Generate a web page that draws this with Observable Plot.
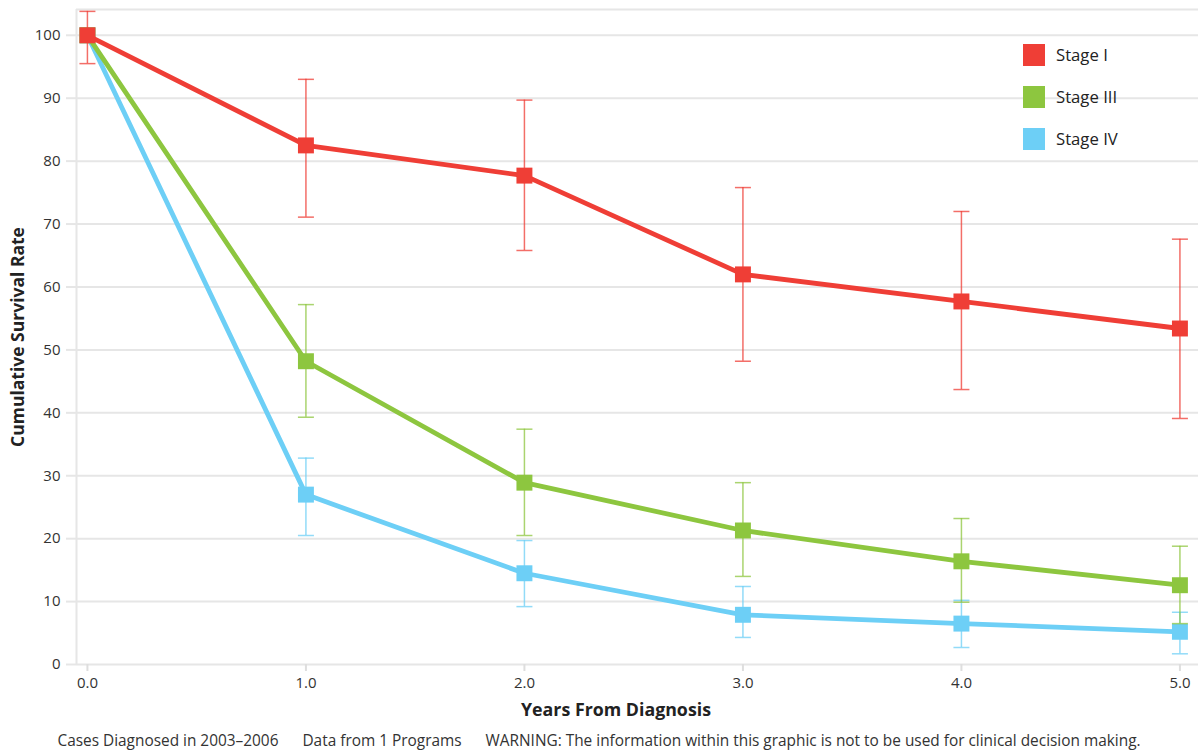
<!DOCTYPE html>
<html><head><meta charset="utf-8">
<script src="https://cdn.jsdelivr.net/npm/d3@7"></script>
<script src="https://cdn.jsdelivr.net/npm/@observablehq/plot@0.6"></script>
<style>
body{margin:0;background:#fff;font-family:"Open Sans",sans-serif;color:#333;}
#wrap{position:relative;width:1198px;height:751px;overflow:hidden;}
#chart{position:absolute;left:0;top:0;}
.legend{position:absolute;left:1023px;top:44px;}
.legend .item{position:absolute;left:0;height:22px;white-space:nowrap;}
.legend .sw{position:absolute;left:0;top:0;width:22px;height:22px;}
.legend .lab{position:absolute;left:33px;top:0;line-height:22px;font-size:16.7px;color:#222;}
.xlabel{position:absolute;left:416px;width:400px;top:697px;text-align:center;font-weight:bold;font-size:17.8px;color:#222;}
.caption{position:absolute;left:0;width:1198px;top:730px;text-align:center;font-size:15.4px;color:#333;white-space:pre;}
</style></head><body>
<div id="wrap"><div id="chart"></div></div>
<script>
const years = [0, 1, 2, 3, 4, 5];
const seriesNames = ["Stage I", "Stage III", "Stage IV"];
const seriesColors = ["#ef3e36", "#8dc63f", "#6dcff6"];
const stageI = [100, 82.5, 77.7, 62.0, 57.7, 53.4];
const stageILow = [95.5, 71.1, 65.8, 48.2, 43.7, 39.1];
const stageIHigh = [103.8, 93.0, 89.7, 75.8, 72.0, 67.6];
const stageIII = [100, 48.2, 28.9, 21.3, 16.4, 12.6];
const stageIIILow = [null, 39.3, 20.5, 14.0, 9.9, 6.5];
const stageIIIHigh = [null, 57.2, 37.4, 28.9, 23.2, 18.8];
const stageIV = [100, 27.0, 14.5, 7.9, 6.5, 5.2];
const stageIVLow = [null, 20.5, 9.2, 4.3, 2.7, 1.7];
const stageIVHigh = [null, 32.8, 19.7, 12.4, 10.2, 8.3];
const xTicks = [0, 1, 2, 3, 4, 5];
const yTicks = [0, 10, 20, 30, 40, 50, 60, 70, 80, 90, 100];
const xDomain = [-0.05, 5.085];
const yDomain = [0, 104.1];
const xTitle = "Years From Diagnosis";
const yTitle = "Cumulative Survival Rate";
const captionParts = ["Cases Diagnosed in 2003\u20132006", "Data from 1 Programs", "WARNING: The information within this graphic is not to be used for clinical decision making."];

const seriesValues = [stageI, stageIII, stageIV];
const seriesLow = [stageILow, stageIIILow, stageIVLow];
const seriesHigh = [stageIHigh, stageIIIHigh, stageIVHigh];

const series = seriesNames.map((name, i) => ({
  name, color: seriesColors[i],
  rows: years.map((yr, j) => ({year: yr, value: seriesValues[i][j], lo: seriesLow[i][j], hi: seriesHigh[i][j]}))
}));

const capSymbol = {draw(ctx, size) { const w = Math.sqrt(size / Math.PI); ctx.moveTo(-w, 0); ctx.lineTo(w, 0); }};

const seriesMarks = [];
for (const s of series.slice().reverse()) {
  const err = s.rows.filter(d => d.lo != null && d.hi != null);
  seriesMarks.push(
    Plot.ruleX(err, {x: "year", y1: "lo", y2: "hi", stroke: s.color, strokeWidth: 1.5, strokeOpacity: 0.75}),
    Plot.dot(err, {x: "year", y: "hi", symbol: capSymbol, r: 8, stroke: s.color, strokeWidth: 1.5, strokeOpacity: 0.75, fill: "none"}),
    Plot.dot(err, {x: "year", y: "lo", symbol: capSymbol, r: 8, stroke: s.color, strokeWidth: 1.5, strokeOpacity: 0.75, fill: "none"}),
    Plot.line(s.rows, {x: "year", y: "value", stroke: s.color, strokeWidth: 4.8, strokeLinejoin: "round"}),
    Plot.dot(s.rows, {x: "year", y: "value", symbol: "square", r: 9, fill: s.color, stroke: "none"})
  );
}

const chart = Plot.plot({
  width: 1198, height: 700,
  marginLeft: 76, marginRight: 0, marginTop: 9, marginBottom: 36,
  style: {fontFamily: "'Open Sans', sans-serif", fontSize: "15px", color: "#333", background: "transparent", overflow: "visible"},
  x: {domain: xDomain, label: null},
  y: {domain: yDomain, label: null},
  marks: [
    Plot.gridY(yTicks, {stroke: "#e6e6e6", strokeOpacity: 1, strokeWidth: 2}),
    Plot.ruleY([yDomain[1]], {stroke: "#e6e6e6", strokeWidth: 2}),
    Plot.ruleX([xDomain[0]], {stroke: "#e6e6e6", strokeWidth: 2}),
    Plot.axisY(yTicks, {tickSize: 10, tickPadding: 6, stroke: "#e6e6e6", strokeWidth: 2, fill: "#333", fontSize: 15, label: null}),
    Plot.axisX(xTicks, {tickSize: 7, tickPadding: 6, tickFormat: d3.format(".1f"), stroke: "#dedede", strokeWidth: 2, fill: "#333", fontSize: 15, label: null}),
    Plot.text([yTitle], {frameAnchor: "left", textAnchor: "middle", dx: -58, rotate: -90, fontWeight: "bold", fontSize: 17.5, fill: "#222", text: d => d}),
    ...seriesMarks
  ]
});
document.getElementById("chart").appendChild(chart);

const wrap = document.getElementById("wrap");
const legend = document.createElement("div");
legend.className = "legend";
const legendStep = [0, 42, 84];
series.forEach((s, i) => {
  const item = document.createElement("div");
  item.className = "item";
  item.style.top = legendStep[i] + "px";
  item.innerHTML = `<div class="sw" style="background:${s.color}"></div><div class="lab">${s.name}</div>`;
  legend.appendChild(item);
});
wrap.appendChild(legend);

const xl = document.createElement("div"); xl.className = "xlabel"; xl.textContent = xTitle; wrap.appendChild(xl);
const cap = document.createElement("div"); cap.className = "caption"; cap.textContent = captionParts.join("      "); wrap.appendChild(cap);
</script>
</body></html>
